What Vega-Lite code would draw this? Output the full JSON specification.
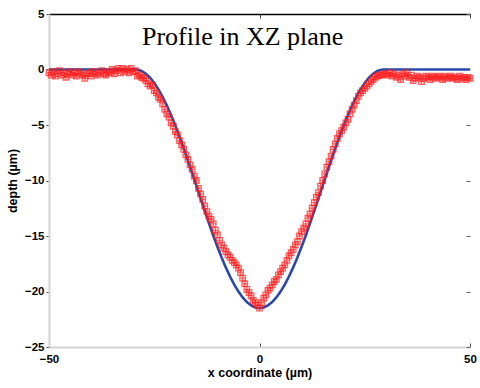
{
  "$schema": "https://vega.github.io/schema/vega-lite/v6.json",
  "width": 421,
  "height": 333,
  "autosize": "none",
  "padding": {"left": 49, "top": 14, "right": 10, "bottom": 41},
  "background": "white",
  "config": {
    "view": {"stroke": null},
    "axis": {
      "grid": false,
      "labelFont": "Liberation Sans",
      "labelFontWeight": "bold",
      "labelFontSize": 11.5,
      "labelColor": "black",
      "labelFlush": false,
      "titleFont": "Liberation Sans",
      "titleFontWeight": "bold",
      "titleFontSize": 12.5,
      "titleColor": "black"
    }
  },
  "datasets": {
    "fit": [
      {"x": -50, "y": 0}, {"x": -29.5, "y": 0}, {"x": -29, "y": -0.015}, {"x": -28, "y": -0.135},
      {"x": -27, "y": -0.378}, {"x": -26, "y": -0.737}, {"x": -25, "y": -1.208}, {"x": -24, "y": -1.792},
      {"x": -23, "y": -2.476}, {"x": -22, "y": -3.252}, {"x": -21, "y": -4.112}, {"x": -20, "y": -5.048},
      {"x": -19, "y": -6.049}, {"x": -18, "y": -7.104}, {"x": -17, "y": -8.199}, {"x": -16, "y": -9.323},
      {"x": -15, "y": -10.464}, {"x": -14, "y": -11.608}, {"x": -13, "y": -12.742}, {"x": -12, "y": -13.854},
      {"x": -11, "y": -14.948}, {"x": -10, "y": -15.969}, {"x": -9, "y": -16.933}, {"x": -8, "y": -17.830},
      {"x": -7, "y": -18.649}, {"x": -6, "y": -19.379}, {"x": -5, "y": -20.012}, {"x": -4, "y": -20.539},
      {"x": -3, "y": -20.956}, {"x": -2, "y": -21.257}, {"x": -1, "y": -21.439}, {"x": 0, "y": -21.5},
      {"x": 1, "y": -21.439}, {"x": 2, "y": -21.257}, {"x": 3, "y": -20.956}, {"x": 4, "y": -20.539},
      {"x": 5, "y": -20.012}, {"x": 6, "y": -19.379}, {"x": 7, "y": -18.649}, {"x": 8, "y": -17.830},
      {"x": 9, "y": -16.933}, {"x": 10, "y": -15.969}, {"x": 11, "y": -14.948}, {"x": 12, "y": -13.854},
      {"x": 13, "y": -12.742}, {"x": 14, "y": -11.608}, {"x": 15, "y": -10.464}, {"x": 16, "y": -9.323},
      {"x": 17, "y": -8.199}, {"x": 18, "y": -7.104}, {"x": 19, "y": -6.049}, {"x": 20, "y": -5.048},
      {"x": 21, "y": -4.112}, {"x": 22, "y": -3.252}, {"x": 23, "y": -2.476}, {"x": 24, "y": -1.792},
      {"x": 25, "y": -1.208}, {"x": 26, "y": -0.737}, {"x": 27, "y": -0.378}, {"x": 28, "y": -0.135},
      {"x": 29, "y": -0.015}, {"x": 29.5, "y": 0}, {"x": 50, "y": 0}
    ],
    "meas": [
      {"x": -50, "y": -0.3}, {"x": -49.5, "y": -0.5}, {"x": -49, "y": -0.2}, {"x": -48.5, "y": -0.6},
      {"x": -48, "y": -0.4}, {"x": -47.5, "y": -0.1}, {"x": -47, "y": -0.5}, {"x": -46.5, "y": -0.3},
      {"x": -46, "y": -0.7}, {"x": -45.5, "y": -0.4}, {"x": -45, "y": -0.2}, {"x": -44.5, "y": -0.5},
      {"x": -44, "y": -0.3}, {"x": -43.5, "y": -0.6}, {"x": -43, "y": -0.2}, {"x": -42.5, "y": -0.4},
      {"x": -42, "y": -0.5}, {"x": -41.5, "y": -0.8}, {"x": -41, "y": -0.4}, {"x": -40.5, "y": -0.3},
      {"x": -40, "y": -0.6}, {"x": -39.5, "y": -0.2}, {"x": -39, "y": -0.4}, {"x": -38.5, "y": -0.5},
      {"x": -38, "y": -0.3}, {"x": -37.5, "y": -0.1}, {"x": -37, "y": -0.4}, {"x": -36.5, "y": -0.5},
      {"x": -36, "y": -0.2}, {"x": -35.5, "y": -0.3}, {"x": -35, "y": 0.0}, {"x": -34.5, "y": -0.4},
      {"x": -34, "y": -0.1}, {"x": -33.5, "y": 0.1}, {"x": -33, "y": -0.3}, {"x": -32.5, "y": 0.1},
      {"x": -32, "y": -0.2}, {"x": -31.5, "y": 0.0}, {"x": -31, "y": -0.3}, {"x": -30.5, "y": 0.1},
      {"x": -30, "y": -0.2}, {"x": -29.5, "y": -0.1}, {"x": -29, "y": -0.6}, {"x": -28.5, "y": -0.5},
      {"x": -28, "y": -0.7}, {"x": -27.5, "y": -0.8}, {"x": -27, "y": -1.0}, {"x": -26.5, "y": -1.3},
      {"x": -26, "y": -1.5}, {"x": -25.5, "y": -1.4}, {"x": -25, "y": -1.9}, {"x": -24.5, "y": -2.1},
      {"x": -24, "y": -2.5}, {"x": -23.5, "y": -2.7}, {"x": -23, "y": -3.1}, {"x": -22.5, "y": -3.6},
      {"x": -22, "y": -4.0}, {"x": -21.5, "y": -4.3}, {"x": -21, "y": -4.8}, {"x": -20.5, "y": -5.1},
      {"x": -20, "y": -5.6}, {"x": -19.5, "y": -5.9}, {"x": -19, "y": -6.4}, {"x": -18.5, "y": -6.8},
      {"x": -18, "y": -7.2}, {"x": -17.5, "y": -7.7}, {"x": -17, "y": -8.1}, {"x": -16.5, "y": -8.6},
      {"x": -16, "y": -9.0}, {"x": -15.5, "y": -9.6}, {"x": -15, "y": -10.0}, {"x": -14.5, "y": -10.7},
      {"x": -14, "y": -11.2}, {"x": -13.5, "y": -11.7}, {"x": -13, "y": -12.3}, {"x": -12.5, "y": -12.8},
      {"x": -12, "y": -13.2}, {"x": -11.5, "y": -13.5}, {"x": -11, "y": -13.9}, {"x": -10.5, "y": -14.5},
      {"x": -10, "y": -14.9}, {"x": -9.5, "y": -15.4}, {"x": -9, "y": -15.8}, {"x": -8.5, "y": -16.1},
      {"x": -8, "y": -16.4}, {"x": -7.5, "y": -16.7}, {"x": -7, "y": -16.9}, {"x": -6.5, "y": -17.2},
      {"x": -6, "y": -17.4}, {"x": -5.5, "y": -17.6}, {"x": -5, "y": -17.9}, {"x": -4.5, "y": -18.3},
      {"x": -4, "y": -18.8}, {"x": -3.5, "y": -19.3}, {"x": -3, "y": -19.8}, {"x": -2.5, "y": -20.1},
      {"x": -2, "y": -20.4}, {"x": -1.5, "y": -20.8}, {"x": -1, "y": -21.0}, {"x": -0.5, "y": -21.2},
      {"x": 0, "y": -21.5}, {"x": 0.5, "y": -21.0}, {"x": 1, "y": -20.6}, {"x": 1.5, "y": -20.3},
      {"x": 2, "y": -19.9}, {"x": 2.5, "y": -19.7}, {"x": 3, "y": -19.4}, {"x": 3.5, "y": -19.1},
      {"x": 4, "y": -18.9}, {"x": 4.5, "y": -18.5}, {"x": 5, "y": -18.2}, {"x": 5.5, "y": -17.9},
      {"x": 6, "y": -17.6}, {"x": 6.5, "y": -17.2}, {"x": 7, "y": -16.8}, {"x": 7.5, "y": -16.5},
      {"x": 8, "y": -16.2}, {"x": 8.5, "y": -15.8}, {"x": 9, "y": -15.5}, {"x": 9.5, "y": -15.0},
      {"x": 10, "y": -14.6}, {"x": 10.5, "y": -14.3}, {"x": 11, "y": -13.9}, {"x": 11.5, "y": -13.4},
      {"x": 12, "y": -13.0}, {"x": 12.5, "y": -12.5}, {"x": 13, "y": -12.0}, {"x": 13.5, "y": -11.5},
      {"x": 14, "y": -11.1}, {"x": 14.5, "y": -10.5}, {"x": 15, "y": -10.0}, {"x": 15.5, "y": -9.4},
      {"x": 16, "y": -8.8}, {"x": 16.5, "y": -8.3}, {"x": 17, "y": -7.8}, {"x": 17.5, "y": -7.2},
      {"x": 18, "y": -6.7}, {"x": 18.5, "y": -6.2}, {"x": 19, "y": -5.8}, {"x": 19.5, "y": -5.5},
      {"x": 20, "y": -5.2}, {"x": 20.5, "y": -4.8}, {"x": 21, "y": -4.5}, {"x": 21.5, "y": -4.0},
      {"x": 22, "y": -3.6}, {"x": 22.5, "y": -3.2}, {"x": 23, "y": -2.8}, {"x": 23.5, "y": -2.4},
      {"x": 24, "y": -2.1}, {"x": 24.5, "y": -1.9}, {"x": 25, "y": -1.7}, {"x": 25.5, "y": -1.5},
      {"x": 26, "y": -1.3}, {"x": 26.5, "y": -1.1}, {"x": 27, "y": -0.9}, {"x": 27.5, "y": -0.7},
      {"x": 28, "y": -0.6}, {"x": 28.5, "y": -0.5}, {"x": 29, "y": -0.5}, {"x": 29.5, "y": -0.4},
      {"x": 30, "y": -0.4}, {"x": 30.5, "y": -0.5}, {"x": 31, "y": -0.3}, {"x": 31.5, "y": -0.6},
      {"x": 32, "y": -0.4}, {"x": 32.5, "y": -0.7}, {"x": 33, "y": -0.5}, {"x": 33.5, "y": -0.9},
      {"x": 34, "y": -0.4}, {"x": 34.5, "y": -0.6}, {"x": 35, "y": -0.3}, {"x": 35.5, "y": -0.7},
      {"x": 36, "y": -0.5}, {"x": 36.5, "y": -1.0}, {"x": 37, "y": -0.8}, {"x": 37.5, "y": -0.6},
      {"x": 38, "y": -0.7}, {"x": 38.5, "y": -1.1}, {"x": 39, "y": -0.8}, {"x": 39.5, "y": -0.6},
      {"x": 40, "y": -0.7}, {"x": 40.5, "y": -0.9}, {"x": 41, "y": -0.6}, {"x": 41.5, "y": -0.7},
      {"x": 42, "y": -0.8}, {"x": 42.5, "y": -0.6}, {"x": 43, "y": -0.7}, {"x": 43.5, "y": -0.9},
      {"x": 44, "y": -0.6}, {"x": 44.5, "y": -0.8}, {"x": 45, "y": -0.7}, {"x": 45.5, "y": -0.6},
      {"x": 46, "y": -0.8}, {"x": 46.5, "y": -0.7}, {"x": 47, "y": -0.9}, {"x": 47.5, "y": -0.6},
      {"x": 48, "y": -0.8}, {"x": 48.5, "y": -0.7}, {"x": 49, "y": -0.9}, {"x": 49.5, "y": -0.7},
      {"x": 50, "y": -0.8}
    ],
    "label": [{"x": -4, "y": 2.2, "t": "Profile in XZ plane"}]
  },
  "layer": [
    {
      "data": {"name": "fit"},
      "mark": {"type": "line", "color": "#2a48a8", "strokeWidth": 2.6},
      "encoding": {
        "x": {
          "field": "x", "type": "quantitative",
          "scale": {"domain": [-50, 50], "nice": false, "zero": false},
          "axis": {
            "orient": "bottom", "values": [-50, 0, 50], "title": "x coordinate (µm)",
            "domainColor": "#d4d4d4", "domainWidth": 2, "tickColor": "#444444",
            "tickSize": -4, "labelPadding": 10, "titlePadding": 2
          }
        },
        "y": {
          "field": "y", "type": "quantitative",
          "scale": {"domain": [-25, 5], "nice": false, "zero": false},
          "axis": {
            "orient": "left", "values": [-25, -20, -15, -10, -5, 0, 5], "title": "depth (µm)",
            "domainColor": "#d4d4d4", "domainWidth": 2, "tickColor": "#444444",
            "tickSize": 3, "labelPadding": 2, "titlePadding": 5
          }
        }
      }
    },
    {
      "data": {"name": "meas"},
      "mark": {
        "type": "point",
        "shape": "M-1,-1H1V1H-1Z M-1,0H1 M0,-1V1",
        "filled": false,
        "size": 30,
        "strokeWidth": 1.3,
        "color": "#ff1a1a",
        "opacity": 0.7
      },
      "encoding": {
        "x": {
          "field": "x", "type": "quantitative",
          "axis": {
            "orient": "top", "values": [-50, 0, 50], "labels": false, "title": null,
            "domainColor": "black", "domainWidth": 1.5, "tickColor": "#444444", "tickSize": -4
          }
        },
        "y": {
          "field": "y", "type": "quantitative",
          "axis": {
            "orient": "right", "values": [-25, -20, -15, -10, -5, 0, 5], "labels": false, "title": null,
            "domain": false, "tickColor": "#666666", "tickSize": -4
          }
        }
      }
    },
    {
      "data": {"name": "label"},
      "mark": {
        "type": "text",
        "font": "Liberation Serif",
        "fontSize": 26,
        "align": "center",
        "baseline": "alphabetic",
        "color": "black"
      },
      "encoding": {
        "x": {"field": "x", "type": "quantitative", "axis": null},
        "y": {"field": "y", "type": "quantitative", "axis": null},
        "text": {"field": "t"}
      }
    }
  ],
  "resolve": {"axis": {"x": "independent", "y": "independent"}}
}
